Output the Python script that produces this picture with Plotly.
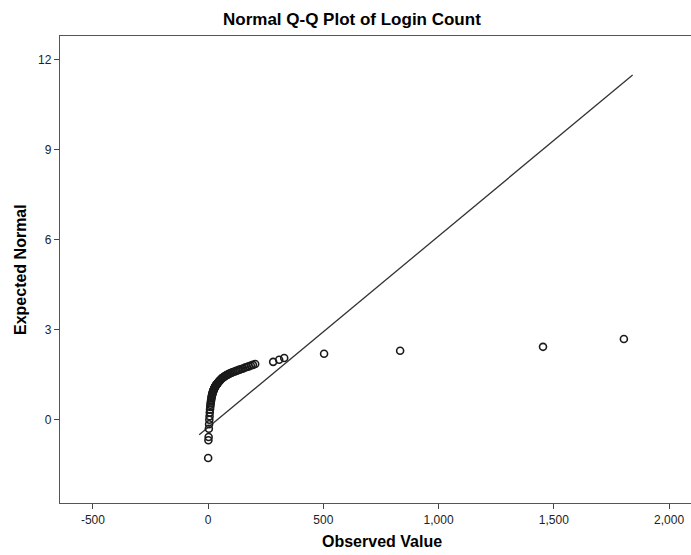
import plotly.graph_objects as go

observed = [0, 1, 2, 3, 4, 5, 6, 7, 8, 9, 10, 11, 12, 13, 14, 15, 16, 17, 18, 19, 20,
            21, 22, 23, 24, 25, 26, 27, 28, 29, 30, 31, 32, 33, 34, 35, 36, 37, 38, 40,
            42, 44, 46, 48, 50, 52, 55, 58, 61, 64, 67, 70, 74, 78, 82, 86, 90, 96, 102,
            108, 115, 122, 129, 136, 144, 152, 160, 168, 176, 185, 194, 204,
            282, 308, 330, 503, 833, 1453, 1804]
expected = [-1.27, -0.68, -0.57, -0.30, -0.15, 0.00, 0.12, 0.24, 0.34, 0.43, 0.50,
            0.56, 0.62, 0.67, 0.72, 0.76, 0.80, 0.83, 0.86, 0.89, 0.92, 0.94, 0.96,
            0.98, 1.00, 1.02, 1.04, 1.055, 1.07, 1.085, 1.10, 1.115, 1.13, 1.14, 1.15,
            1.16, 1.17, 1.18, 1.19, 1.21, 1.23, 1.25, 1.27, 1.29, 1.30, 1.32, 1.35,
            1.37, 1.39, 1.41, 1.42, 1.44, 1.46, 1.48, 1.50, 1.51, 1.53, 1.55, 1.57,
            1.59, 1.61, 1.63, 1.65, 1.67, 1.69, 1.71, 1.74, 1.76, 1.78, 1.81, 1.83,
            1.86, 1.93, 2.00, 2.06, 2.20, 2.30, 2.43, 2.69]

# Reference line parameters (mean / sd of the sample) and its x extent
line_mean = 39.4
line_sd = 157.0
line_x = [-39, 1842]
line_y = [(v - line_mean) / line_sd for v in line_x]

x_ticks = [-500, 0, 500, 1000, 1500, 2000]
x_tick_labels = ["-500", "0", "500", "1,000", "1,500", "2,000"]
y_ticks = [0, 3, 6, 9, 12]
y_tick_labels = ["0", "3", "6", "9", "12"]

FONT = "Liberation Sans, Arial, sans-serif"
W, H = 705, 555          # the chart runs past the 691px window on the right (cropped)
L, R, T, B = 60, 0, 36, 52
pw, ph = W - L - R, H - T - B

def px_to_paper_x(px):
    return (px - L) / pw

def py_to_paper_y(py):
    return (H - B - py) / ph

fig = go.Figure()
fig.add_trace(go.Scatter(
    x=line_x, y=line_y, mode="lines",
    line=dict(color="#333333", width=1.3),
    hoverinfo="skip", showlegend=False,
))
fig.add_trace(go.Scatter(
    x=observed, y=expected, mode="markers",
    marker=dict(symbol="circle-open", size=7, color="#1a1a1a", line=dict(width=1.6, color="#1a1a1a")),
    showlegend=False,
))

axis_common = dict(
    showline=True, linecolor="#555555", linewidth=1.3,
    ticks="outside", ticklen=5, tickwidth=1.3, tickcolor="#444444",
    showgrid=False, zeroline=False,
    tickfont=dict(family=FONT, size=12, color="#222222"),
)
fig.update_xaxes(range=[-643, 2156], tickvals=x_ticks, ticktext=x_tick_labels,
                 mirror=True, **axis_common)
fig.update_yaxes(range=[-2.77, 12.78], tickvals=y_ticks, ticktext=y_tick_labels,
                 mirror=False, **axis_common)

fig.update_layout(
    width=W, height=H,
    margin=dict(l=L, r=R, t=T, b=B, pad=0),
    paper_bgcolor="white", plot_bgcolor="white",
    font=dict(family=FONT, color="#000000"),
    annotations=[
        dict(text="<b>Normal Q-Q Plot of Login Count</b>", xref="paper", yref="paper",
             x=px_to_paper_x(352), y=py_to_paper_y(20), xanchor="center", yanchor="middle",
             showarrow=False, font=dict(family=FONT, size=17, color="#000000")),
        dict(text="<b>Observed Value</b>", xref="paper", yref="paper",
             x=px_to_paper_x(382), y=py_to_paper_y(541), xanchor="center", yanchor="middle",
             showarrow=False, font=dict(family=FONT, size=16, color="#000000")),
        dict(text="<b>Expected Normal</b>", xref="paper", yref="paper",
             x=px_to_paper_x(20), y=py_to_paper_y(270), xanchor="center", yanchor="middle",
             textangle=-90, showarrow=False, font=dict(family=FONT, size=16, color="#000000")),
    ],
)

fig.write_html("out.html", config={"displayModeBar": False},
               post_script=("document.body.style.margin='0';"
                            "document.body.style.overflow='hidden';"
                            "document.documentElement.style.overflow='hidden';"))
